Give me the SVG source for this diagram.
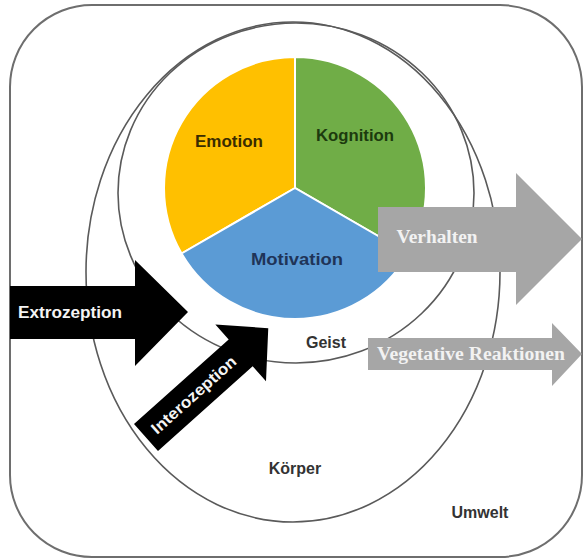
<svg xmlns="http://www.w3.org/2000/svg" width="585" height="560" viewBox="0 0 585 560">
  <style>
    .line { fill: none; stroke: #5a5a5a; stroke-width: 1.6; }
    .lbl { font-family: "Liberation Sans", Arial, sans-serif; font-weight: bold; font-size: 16px; text-anchor: middle; }
    .dark { fill: #333333; }
    .wht { fill: #f4f4f4; }
    .serif { font-family: "Liberation Serif", "Times New Roman", serif; font-weight: bold; font-size: 18px; fill: #f2f2f2; text-anchor: middle; }
    .slice { stroke: #ffffff; stroke-width: 2; }
    .black { fill: #000000; }
    .gray { fill: #a6a6a6; }
  </style>
  <rect width="585" height="560" fill="#ffffff"/>

  <g id="umwelt">
    <rect x="10" y="5" width="572" height="552" rx="82" ry="82" fill="none" stroke="#6e6e6e" stroke-width="2"/>
    <text class="lbl dark" x="480" y="518">Umwelt</text>
  </g>

  <g id="koerper">
    <ellipse class="line" cx="293" cy="272" rx="207" ry="250"/>
    <text class="lbl dark" x="295" y="474">Körper</text>
  </g>

  <g id="geist">
    <ellipse class="line" cx="296" cy="193" rx="178" ry="170"/>
    <text class="lbl dark" x="326" y="348">Geist</text>
  </g>

  <g id="emotion">
    <path class="slice" fill="#FFC000" d="M295,188 L295,57 A131,131 0 0 0 181.55,253.5 Z"/>
    <text class="lbl" x="229" y="147" fill="#3a2c00" textLength="68" lengthAdjust="spacingAndGlyphs">Emotion</text>
  </g>

  <g id="kognition">
    <path class="slice" fill="#70AD47" d="M295,188 L295,57 A131,131 0 0 1 408.45,253.5 Z"/>
    <text class="lbl" x="355" y="141" fill="#1c3a0e" textLength="78" lengthAdjust="spacingAndGlyphs">Kognition</text>
  </g>

  <g id="motivation">
    <path class="slice" fill="#5B9BD5" d="M295,188 L181.55,253.5 A131,131 0 0 0 408.45,253.5 Z"/>
    <text class="lbl" x="297" y="265" fill="#1f3458" textLength="92" lengthAdjust="spacingAndGlyphs">Motivation</text>
  </g>

  <g id="connectors">
    <g id="extrozeption">
      <polygon class="black" points="10,286 135,286 135,260 188,312 135,366 135,339 10,339"/>
      <text class="lbl wht" x="70" y="318" textLength="104" lengthAdjust="spacingAndGlyphs">Extrozeption</text>
    </g>

    <g id="interozeption" transform="translate(146,437.5) rotate(-41.8)">
      <polygon class="black" points="0,-18 127,-18 127,-38 164,0 127,38 127,18 0,18"/>
      <text class="lbl wht" x="64" y="5.5" font-size="15" textLength="108" lengthAdjust="spacingAndGlyphs">Interozeption</text>
    </g>

    <g id="verhalten">
      <polygon class="gray" points="378,207 516,207 516,173 582,239 516,305 516,272 378,272"/>
      <text class="serif" x="437" y="243" textLength="81" lengthAdjust="spacingAndGlyphs">Verhalten</text>
    </g>

    <g id="vegetative">
      <polygon class="gray" points="368,338 552,338 552,323 582,354 552,386 552,370 368,370"/>
      <text class="serif" x="471" y="360" font-size="17" textLength="188" lengthAdjust="spacingAndGlyphs">Vegetative Reaktionen</text>
    </g>
  </g>
</svg>
